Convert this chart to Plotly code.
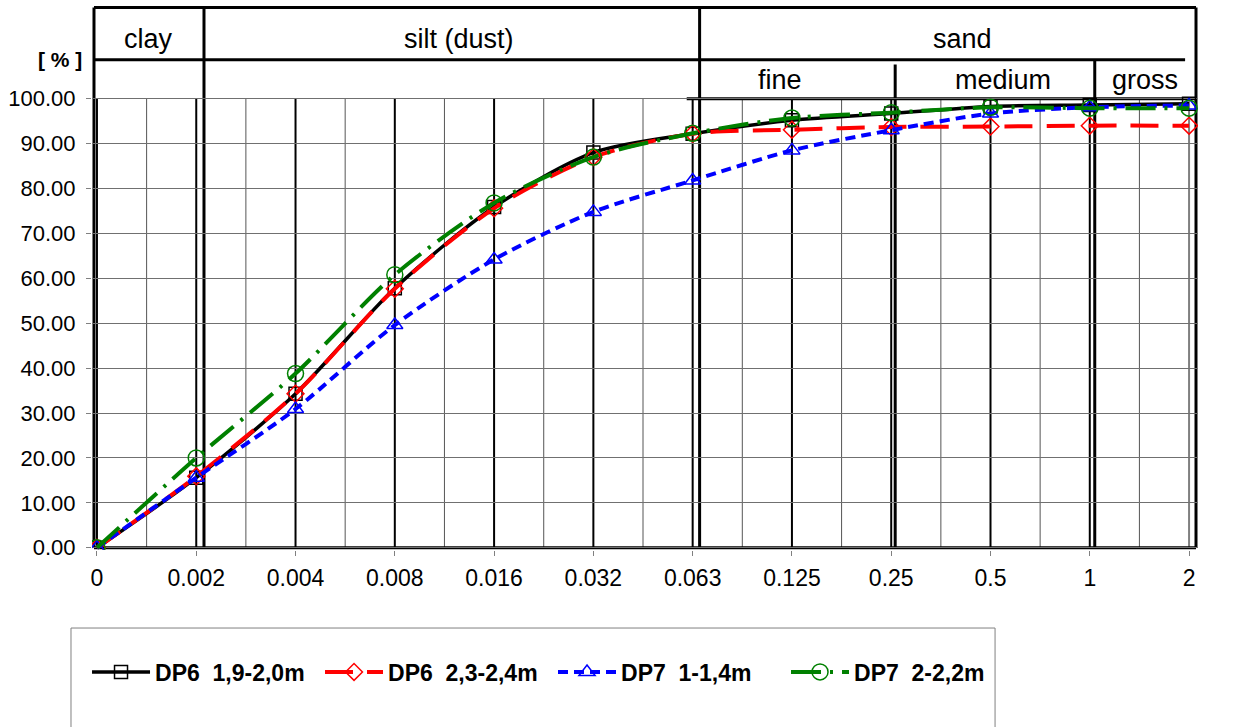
import plotly.graph_objects as go

# grain size classes on the x axis (evenly spaced, log-like sieve steps)
grain_labels = ["0", "0.002", "0.004", "0.008", "0.016", "0.032", "0.063",
                "0.125", "0.25", "0.5", "1", "2"]

# cumulative passing [%]
dp6_19_20 = [0, 15.6, 34.3, 57.8, 75.9, 88.0, 92.2, 95.2, 96.7, 98.3, 98.6, 98.9]
dp6_23_24 = [0, 15.9, 34.3, 57.7, 75.6, 87.0, 92.2, 93.1, 93.7, 93.8, 94.0, 94.0]
dp7_10_14 = [0, 15.6, 30.9, 49.6, 64.2, 74.8, 81.8, 88.5, 93.0, 96.7, 98.1, 98.5]
dp7_20_22 = [0, 20.0, 38.8, 60.8, 76.8, 87.0, 92.3, 95.7, 96.9, 98.1, 97.9, 97.9]

series_names = ["DP6\u00a0 1,9-2,0m", "DP6\u00a0 2,3-2,4m", "DP7\u00a0 1-1,4m", "DP7\u00a0 2-2,2m"]
y_ticks = [0, 10, 20, 30, 40, 50, 60, 70, 80, 90, 100]

FONT = "Arial, Liberation Sans, sans-serif"
xs = list(range(len(grain_labels)))

styles = [
    dict(color="black", width=3.5, dash="solid", symbol="square-open", size=13),
    dict(color="#ff0000", width=4, dash="28px,14px", symbol="diamond-open", size=13),
    dict(color="#0000ff", width=4, dash="10px,6px", symbol="triangle-up-open", size=14),
    dict(color="#008000", width=4, dash="30px,9px,3px,9px", symbol="circle-open", size=16),
]
series = [dp6_19_20, dp6_23_24, dp7_10_14, dp7_20_22]

fig = go.Figure()
for name, vals, st in zip(series_names, series, styles):
    fig.add_trace(go.Scatter(
        x=xs, y=vals, name=name, mode="lines+markers",
        line=dict(color=st["color"], width=st["width"], dash=st["dash"],
                  shape="spline", smoothing=0.8),
        marker=dict(symbol=st["symbol"], size=st["size"],
                    line=dict(color=st["color"], width=1.5)),
    ))

shapes = []


def vline(x, y0, y1, color="black", width=2):
    shapes.append(dict(type="line", xref="x", yref="y", x0=x, x1=x, y0=y0, y1=y1,
                       line=dict(color=color, width=width), layer="below"))


def hline(y, x0, x1, color="black", width=3):
    shapes.append(dict(type="line", xref="x", yref="y", x0=x0, x1=x1, y0=y, y1=y,
                       line=dict(color=color, width=width), layer="below"))


# minor and major vertical grid lines
for i in range(len(xs) - 1):
    vline(i + 0.5, 0, 100, color="#555555", width=1)
for i in xs:
    vline(i, 0, 100, color="#808080" if i == xs[-1] else "black", width=2)

# frame and classification header
left, right = -0.03, 11.07
top, row_sep = 120.3, 108.7
hline(0, left, right, width=3)
hline(top, left, right, width=3)
hline(row_sep, left, 10.96, width=3)
hline(100, 5.94, right, width=3)
vline(left, 0, top, width=3)
vline(right, 0, top, width=3)
vline(1.078, 0, top, width=3)     # clay | silt
vline(6.07, 0, top, width=3)      # silt | sand
vline(8.04, 0, 107.6, width=3)    # fine | medium
vline(10.05, 0, row_sep, width=3)  # medium | gross

# legend frame
shapes.append(dict(type="rect", xref="paper", yref="paper", x0=-0.019, x1=0.8165,
                   y0=-0.35, y1=-0.1429, line=dict(color="#808080", width=1),
                   fillcolor="rgba(0,0,0,0)"))

annotations = []
for text, x, y in [("clay", 0.52, 113.2), ("silt (dust)", 3.65, 113.2), ("sand", 8.72, 113.2),
                   ("fine", 6.88, 104.2), ("medium", 9.13, 104.2), ("gross", 10.56, 104.2)]:
    annotations.append(dict(text=text, x=x, y=y, xref="x", yref="y", showarrow=False,
                            font=dict(family=FONT, size=27, color="black")))
annotations.append(dict(text="<b>[ % ]</b>", x=-0.0072, y=108.7, xref="paper", yref="y",
                        xanchor="right", showarrow=False,
                        font=dict(family=FONT, size=21, color="black")))
annotations.append(dict(text="<b>grain size [mm]</b>", x=1.0307, y=-13.1, xref="paper", yref="y",
                        xanchor="right", showarrow=False,
                        font=dict(family=FONT, size=21, color="black")))

fig.update_layout(
    width=1239, height=727,
    margin=dict(l=92, r=41, t=4, b=177),
    plot_bgcolor="white", paper_bgcolor="white",
    font=dict(family=FONT, color="black"),
    shapes=shapes, annotations=annotations,
    showlegend=True,
    legend=dict(orientation="h", x=-0.0045, xanchor="left", y=-0.2234, yanchor="middle",
                bgcolor="rgba(0,0,0,0)", font=dict(family=FONT, size=23, color="black",
                                                   weight="bold"),
                itemwidth=58, entrywidth=160, entrywidthmode="pixels"),
)
fig.update_xaxes(range=[-0.05, 11.09], tickvals=xs, ticktext=grain_labels,
                 showgrid=False, zeroline=False, showline=False,
                 ticks="outside", ticklen=5, tickcolor="#808080", tickwidth=1,
                 ticklabelstandoff=2, tickfont=dict(family=FONT, size=23, color="black"))
fig.update_yaxes(range=[-0.5, 121.1], tickvals=y_ticks,
                 ticktext=[f"{v:.2f}" for v in y_ticks],
                 showgrid=True, gridcolor="#707070", gridwidth=1, zeroline=False,
                 showline=False, ticks="outside", ticklen=5, tickcolor="#808080",
                 ticklabelstandoff=6, tickfont=dict(family=FONT, size=22, color="black"))

fig.write_html("out.html")
